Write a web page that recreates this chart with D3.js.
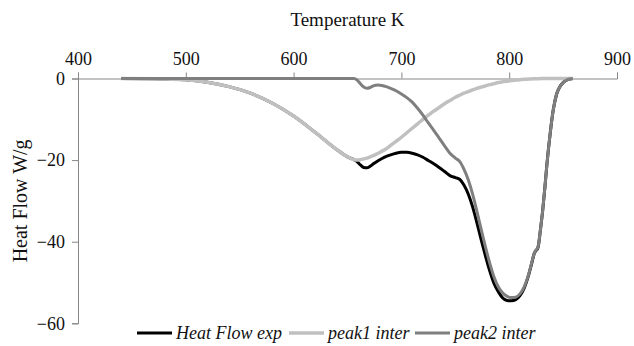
<!DOCTYPE html>
<html>
<head>
<meta charset="utf-8">
<script src="https://cdn.jsdelivr.net/npm/d3@7"></script>
<style>
  html, body { margin: 0; padding: 0; background: #fff; }
  svg { display: block; }
</style>
</head>
<body>
<svg id="chart" width="634" height="346"></svg>
<script>
// Temperature grid (K)
const temperature = [440, 470, 500, 520, 540, 560, 580, 600, 620, 640, 650, 656, 659, 662, 665, 668, 671, 674, 678, 682, 686, 690, 695, 700, 705, 710, 715, 720, 725, 730, 735, 740, 745, 750, 754, 758, 762, 766, 770, 774, 778, 782, 786, 790, 794, 798, 802, 806, 810, 814, 818, 821, 823, 825, 826, 827, 829, 831, 833, 835, 838, 841, 844, 847, 850, 854, 859];

// Measured heat flow (W/g)
const heatFlowExp = [0, -0.05, -0.3, -0.9, -2.0, -3.6, -6.0, -9.2, -13.2, -17.4, -19.2, -19.9, -20.4, -21.2, -21.8, -21.9, -21.5, -20.9, -20.2, -19.6, -19.1, -18.7, -18.3, -18.1, -18.1, -18.3, -18.7, -19.3, -20.1, -20.9, -21.8, -22.8, -23.8, -24.3, -24.7, -26.1, -28.3, -31.4, -35.3, -39.5, -43.5, -47.2, -50.3, -52.3, -53.8, -54.4, -54.5, -54.2, -53.2, -51.3, -48.2, -45.2, -43.1, -42.1, -41.9, -41.1, -37, -32.5, -27, -21, -13.5, -7.5, -3.8, -2.0, -1.0, -0.3, 0];

// First deconvoluted peak (W/g)
const peak1Inter = [0, -0.05, -0.3, -0.9, -2.0, -3.6, -6.0, -9.2, -13.2, -17.4, -19.2, -19.9, -20.0, -19.9, -19.7, -19.5, -19.2, -18.9, -18.4, -17.8, -17.2, -16.4, -15.4, -14.4, -13.3, -12.2, -11.1, -10.0, -9.0, -8.0, -7.1, -6.2, -5.4, -4.6, -4.1, -3.6, -3.2, -2.8, -2.4, -2.1, -1.8, -1.5, -1.25, -1.0, -0.8, -0.65, -0.5, -0.4, -0.3, -0.2, -0.15, -0.1, -0.08, -0.06, -0.05, -0.04, -0.03, -0.02, -0.02, -0.01, 0, 0, 0, 0, 0, 0, 0];

// Second deconvoluted peak (W/g)
const peak2Inter = [0, 0, 0, 0, 0, 0, 0, 0, 0, 0, 0, 0, -0.4, -1.3, -2.1, -2.4, -2.2, -1.8, -1.6, -1.7, -2.0, -2.4, -3.0, -3.8, -4.7, -5.8, -7.3, -9.0, -10.9, -12.7, -14.6, -16.5, -18.3, -19.5, -20.3, -22.2, -24.8, -28.3, -32.5, -37.0, -41.3, -45.3, -48.7, -51.1, -52.6, -53.4, -53.7, -53.6, -52.8, -51.0, -48.0, -45.0, -43.0, -42.0, -41.8, -41.0, -37, -32.5, -27, -21, -13.5, -7.5, -3.8, -2.0, -1.0, -0.3, 0];

const xTicks = [400, 500, 600, 700, 800, 900];
const yTicks = [0, -20, -40, -60];

const seriesNames = ["Heat Flow exp", "peak1 inter", "peak2 inter"];
const seriesValues = [heatFlowExp, peak1Inter, peak2Inter];
const seriesColors = ["#000000", "#c0c0c0", "#7f7f7f"];
const seriesWidths = [3, 3.5, 3];

const svg = d3.select("#chart");
const plotLeft = 78, plotRight = 617, plotTop = 78.5, plotBottom = 323.3;

const x = d3.scaleLinear().domain([400, 900]).range([plotLeft, plotRight]);
const y = d3.scaleLinear().domain([0, -60]).range([plotTop, plotBottom]);

const serif = "'Liberation Serif', 'Times New Roman', serif";
const axisColor = "#868686";

// Top temperature axis
const xAxis = svg.append("g")
  .attr("transform", `translate(0,${plotTop})`)
  .call(d3.axisTop(x).tickValues(xTicks).tickSize(6).tickPadding(8).tickFormat(d3.format("d")));
xAxis.select(".domain").attr("stroke", axisColor);
xAxis.selectAll(".tick line").attr("stroke", axisColor);
xAxis.selectAll("text").attr("font-family", serif).attr("font-size", 18).attr("fill", "#111");

// Left heat-flow axis
const yAxis = svg.append("g")
  .attr("transform", `translate(${plotLeft},0)`)
  .call(d3.axisLeft(y).tickValues(yTicks).tickSize(6).tickPadding(7).tickFormat(d3.format("d")));
yAxis.select(".domain").attr("stroke", axisColor);
yAxis.selectAll(".tick line").attr("stroke", axisColor);
yAxis.selectAll("text").attr("font-family", serif).attr("font-size", 18).attr("fill", "#111");

// Axis titles
svg.append("text")
  .attr("x", (plotLeft + plotRight) / 2).attr("y", 26)
  .attr("text-anchor", "middle")
  .attr("font-family", serif).attr("font-size", 19).attr("fill", "#111")
  .text("Temperature K");

svg.append("text")
  .attr("transform", `translate(27,${(plotTop + plotBottom) / 2}) rotate(-90)`)
  .attr("text-anchor", "middle")
  .attr("font-family", serif).attr("font-size", 20).attr("fill", "#111")
  .text("Heat Flow W/g");

// Curves
const line = d3.line()
  .x((d, i) => x(temperature[i]))
  .y(d => y(d))
  .curve(d3.curveMonotoneX);

seriesValues.forEach((vals, k) => {
  svg.append("path")
    .datum(vals)
    .attr("fill", "none")
    .attr("stroke", seriesColors[k])
    .attr("stroke-width", seriesWidths[k])
    .attr("stroke-linejoin", "round")
    .attr("d", line);
});

// Legend
const legendItems = [
  { x: 137, textX: 176 },
  { x: 289, textX: 328 },
  { x: 415, textX: 454 }
];
const legendY = 333;
legendItems.forEach((it, k) => {
  svg.append("line")
    .attr("x1", it.x).attr("x2", it.x + 35)
    .attr("y1", legendY).attr("y2", legendY)
    .attr("stroke", seriesColors[k]).attr("stroke-width", seriesWidths[k]);
  svg.append("text")
    .attr("x", it.textX).attr("y", legendY + 6)
    .attr("font-family", serif).attr("font-style", "italic").attr("font-size", 18).attr("fill", "#111")
    .text(seriesNames[k]);
});
</script>
</body>
</html>
